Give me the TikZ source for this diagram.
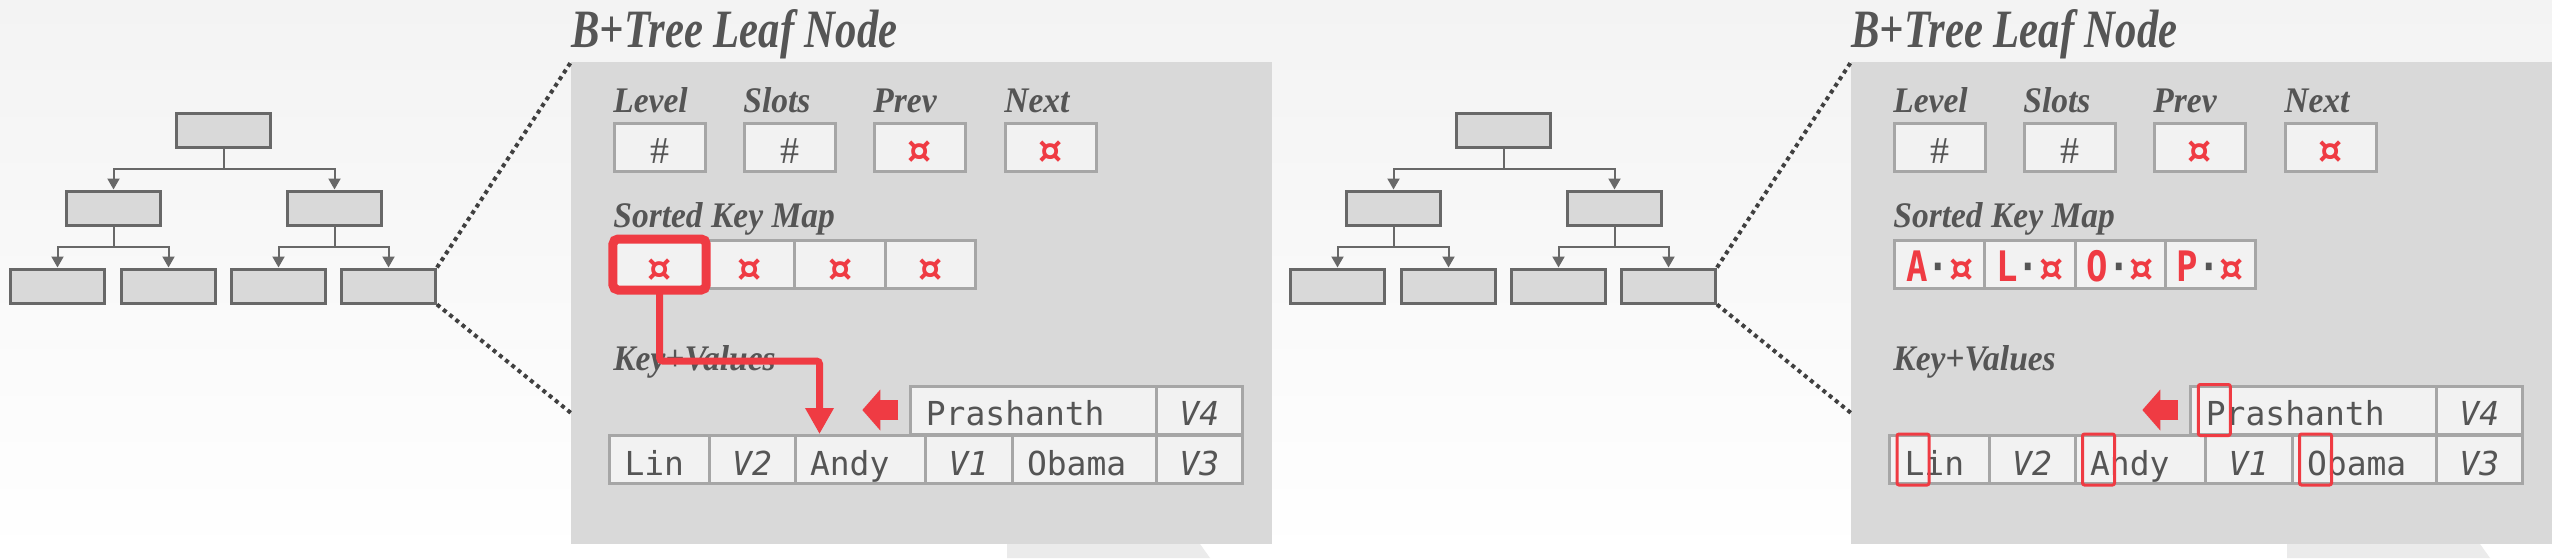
\documentclass[tikz,border=0pt]{standalone}
\usepackage{fontspec}
\usetikzlibrary{arrows.meta}
\newfontfamily\headfont[FakeStretch=0.79]{Liberation Serif}
\newfontfamily\fieldfont[FakeStretch=0.93]{Liberation Serif}
\newfontfamily\hashfont{Liberation Serif}
\newfontfamily\cellfont{DejaVu Sans Mono}
\newfontfamily\mapfont[FakeStretch=0.85]{DejaVu Sans Mono}
\newfontfamily\symfont{DejaVu Sans}
\definecolor{inkgray}{HTML}{555555}
\definecolor{ptrred}{HTML}{EF3B43}
\definecolor{cellfill}{HTML}{F2F2F2}
\definecolor{cellline}{HTML}{A6A6A6}
\definecolor{panelgray}{HTML}{D9D9D9}
\definecolor{treeline}{HTML}{686868}
\definecolor{bgtop}{HTML}{F3F3F3}
\definecolor{fadegray}{HTML}{EBEBEB}
\newcommand\ptrsym{{\symfont\bfseries\fontsize{19}{20}\selectfont\color{ptrred}¤}}
\newcommand\keyptr[1]{{\color{ptrred}#1}{\color{inkgray}·}\ptrsym}

\begin{document}
\begin{tikzpicture}[x=0.5pt, y=-0.5pt,
  treebox/.style={draw=treeline, line width=1.5pt, fill=panelgray, minimum width=47pt, minimum height=17pt, inner sep=0pt},
  treeedge/.style={draw=treeline, line width=1pt, -{Triangle[width=6pt,length=5.5pt]}},
  zoomline/.style={draw=black!75, line width=2pt, dash pattern=on 2pt off 2pt},
  panel/.style={fill=panelgray, minimum width=350.5pt, minimum height=241pt, inner sep=0pt, anchor=north west},
  headtext/.style={font=\headfont\bfseries\itshape\fontsize{27}{30}\selectfont, text=inkgray, inner sep=0pt, anchor=base west},
  fieldtext/.style={font=\fieldfont\bfseries\itshape\fontsize{18}{20}\selectfont, text=inkgray, inner sep=0pt, anchor=base west},
  cell/.style={draw=cellline, line width=1.5pt, fill=cellfill, minimum height=24pt, inner sep=0pt, text height=15.5pt, text depth=0pt, text=inkgray},
  hashcell/.style={cell, minimum width=45.5pt, font=\hashfont\fontsize{19}{20}\selectfont},
  mapcell/.style={cell, minimum width=45.125pt, text height=16.5pt, font=\mapfont\bfseries\fontsize{21}{22}\selectfont},
  keycell/.style={cell, inner xsep=7.5pt, align=left, text width=#1, font=\cellfont\fontsize{16.5}{18}\selectfont},
  valcell/.style={cell, minimum width=#1, font=\cellfont\itshape\fontsize{16.5}{18}\selectfont},
  hlframe/.style={draw=ptrred, line width=4.5pt, rounded corners=2.5pt},
  ptrarrow/.style={draw=ptrred, line width=3.5pt, rounded corners=1.5pt, -{Triangle[width=13.5pt,length=13pt]}},
  movearrow/.style={draw=ptrred, line width=10pt, -{Triangle[width=20pt,length=9pt]}},
  letterbox/.style={draw=ptrred, line width=1.5pt, rounded corners=1pt}]
\useasboundingbox (0,0) rectangle (2552,558);
\shade[top color=bgtop, bottom color=white] (0,0) rectangle (2552,558);
\fill[fadegray] (1007,544) -- (1200,544) -- (1210,558) -- (1007,558) -- cycle;
\fill[fadegray] (2287,544) -- (2480,544) -- (2490,558) -- (2287,558) -- cycle;
\node[treebox] (root) at (223.5,130.5) {};
\node[treebox] (midl) at (113.5,208) {};
\node[treebox] (midr) at (334.5,208) {};
\node[treebox] (leaf1) at (57.5,286) {};
\node[treebox] (leaf2) at (168.5,286) {};
\node[treebox] (leaf3) at (278.5,286) {};
\node[treebox] (leaf4) at (388.5,286) {};
\draw[treeedge] (root.south) -- ++(0,20) -| (midl.north);
\draw[treeedge] (root.south) -- ++(0,20) -| (midr.north);
\draw[treeedge] (midl.south) -- ++(0,20) -| (leaf1.north);
\draw[treeedge] (midl.south) -- ++(0,20) -| (leaf2.north);
\draw[treeedge] (midr.south) -- ++(0,20) -| (leaf3.north);
\draw[treeedge] (midr.south) -- ++(0,20) -| (leaf4.north);
\node[panel] (leafpg) at (571,62) {};
\coordinate (zoomlo) at (571,413);
\draw[zoomline] (leaf4.north east) -- (leafpg.north west);
\draw[zoomline] (leaf4.south east) -- (zoomlo);
\node[headtext] (head) at (571,47) {B+Tree Leaf Node};
\node[fieldtext] (lvllbl) at (613,112) {Level};
\node[fieldtext] (slotlbl) at (743,112) {Slots};
\node[fieldtext] (prevlbl) at (873,112) {Prev};
\node[fieldtext] (nextlbl) at (1004,112) {Next};
\node[hashcell] (lvl) at (660,147.5) {\#};
\node[hashcell] (slot) at (790,147.5) {\#};
\node[hashcell] (prev) at (920,147.5) {\ptrsym};
\node[hashcell] (next) at (1050.5,147.5) {\ptrsym};
\node[fieldtext] (maplbl) at (613,227) {Sorted Key Map};
\node[mapcell] (map1) at (659.6,264.5) {\ptrsym};
\node[mapcell] (map2) at (749.9,264.5) {\ptrsym};
\node[mapcell] (map3) at (840.1,264.5) {\ptrsym};
\node[mapcell] (map4) at (930.4,264.5) {\ptrsym};
\node[fieldtext] (kvlbl) at (613,370) {Key+Values};
\node[keycell=107.6pt] (prash) at (1033.4,410) {Prashanth};
\node[valcell=43.25pt] (v4) at (1199.25,410) {V4};
\node[keycell=34.75pt] (lin) at (659.25,459.5) {Lin};
\node[valcell=43pt] (v2) at (752,459.5) {V2};
\node[keycell=50pt] (andy) at (860,459.5) {Andy};
\node[valcell=43.5pt] (v1) at (968.5,459.5) {V1};
\node[keycell=57pt] (obama) at (1084,459.5) {Obama};
\node[valcell=43.25pt] (v3) at (1199.25,459.5) {V3};
\draw[hlframe] (map1.north west) rectangle (map1.south east);
\draw[ptrarrow] (map1.south) -- ++(0,71) -| ([xshift=13pt]andy.north west);
\draw[movearrow] ([xshift=-5.5pt]prash.west) -- ++(-36,0);
\begin{scope}[xshift=640pt]
\node[treebox] (rootr) at (223.5,130.5) {};
\node[treebox] (midlr) at (113.5,208) {};
\node[treebox] (midrr) at (334.5,208) {};
\node[treebox] (leaf1r) at (57.5,286) {};
\node[treebox] (leaf2r) at (168.5,286) {};
\node[treebox] (leaf3r) at (278.5,286) {};
\node[treebox] (leaf4r) at (388.5,286) {};
\draw[treeedge] (rootr.south) -- ++(0,20) -| (midlr.north);
\draw[treeedge] (rootr.south) -- ++(0,20) -| (midrr.north);
\draw[treeedge] (midlr.south) -- ++(0,20) -| (leaf1r.north);
\draw[treeedge] (midlr.south) -- ++(0,20) -| (leaf2r.north);
\draw[treeedge] (midrr.south) -- ++(0,20) -| (leaf3r.north);
\draw[treeedge] (midrr.south) -- ++(0,20) -| (leaf4r.north);
\node[panel] (leafpgr) at (571,62) {};
\coordinate (zoomlor) at (571,413);
\draw[zoomline] (leaf4r.north east) -- (leafpgr.north west);
\draw[zoomline] (leaf4r.south east) -- (zoomlor);
\node[headtext] (headr) at (571,47) {B+Tree Leaf Node};
\node[fieldtext] (lvllblr) at (613,112) {Level};
\node[fieldtext] (slotlblr) at (743,112) {Slots};
\node[fieldtext] (prevlblr) at (873,112) {Prev};
\node[fieldtext] (nextlblr) at (1004,112) {Next};
\node[hashcell] (lvlr) at (660,147.5) {\#};
\node[hashcell] (slotr) at (790,147.5) {\#};
\node[hashcell] (prevr) at (920,147.5) {\ptrsym};
\node[hashcell] (nextr) at (1050.5,147.5) {\ptrsym};
\node[fieldtext] (maplblr) at (613,227) {Sorted Key Map};
\node[mapcell] (map1r) at (659.6,264.5) {\keyptr{A}};
\node[mapcell] (map2r) at (749.9,264.5) {\keyptr{L}};
\node[mapcell] (map3r) at (840.1,264.5) {\keyptr{O}};
\node[mapcell] (map4r) at (930.4,264.5) {\keyptr{P}};
\node[fieldtext] (kvlblr) at (613,370) {Key+Values};
\node[keycell=107.6pt] (prashr) at (1033.4,410) {Prashanth};
\node[valcell=43.25pt] (v4r) at (1199.25,410) {V4};
\node[keycell=34.75pt] (linr) at (659.25,459.5) {Lin};
\node[valcell=43pt] (v2r) at (752,459.5) {V2};
\node[keycell=50pt] (andyr) at (860,459.5) {Andy};
\node[valcell=43.5pt] (v1r) at (968.5,459.5) {V1};
\node[keycell=57pt] (obamar) at (1084,459.5) {Obama};
\node[valcell=43.25pt] (v3r) at (1199.25,459.5) {V3};
\draw[movearrow] ([xshift=-5.5pt]prashr.west) -- ++(-36,0);
\draw[letterbox] ([xshift=4.5pt]prashr.north west) rectangle ([xshift=20.5pt]prashr.south west);
\draw[letterbox] ([xshift=4.5pt]linr.north west) rectangle ([xshift=20.5pt]linr.south west);
\draw[letterbox] ([xshift=4.5pt]andyr.north west) rectangle ([xshift=20.5pt]andyr.south west);
\draw[letterbox] ([xshift=4.5pt]obamar.north west) rectangle ([xshift=20.5pt]obamar.south west);
\end{scope}
\end{tikzpicture}
\end{document}
